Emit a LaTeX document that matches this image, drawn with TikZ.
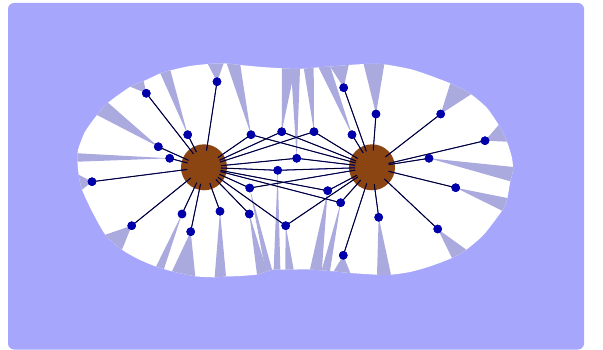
\documentclass[tikz,border=0pt]{standalone}
\usetikzlibrary{calc}
\definecolor{bgcol}{RGB}{166,166,252}
\definecolor{wedgecol}{RGB}{170,170,222}
\definecolor{dotcol}{RGB}{0,0,170}
\definecolor{hubcol}{RGB}{139,69,19}
\newcommand\wedgetri[3]{\fill[wedgecol] (#1) -- ($(#1)!1.8!(#2)$) -- ($(#1)!1.8!(#3)$) -- cycle;}
\newcommand\linkto[2]{%
  \draw[linkblue] (#1.center) -- ($(#2)!17pt!(#1)$);
  \draw[linkblack] (#1.center) -- ($(#2)!17pt!(#1)$);}
\begin{document}
\begin{tikzpicture}[x=1pt,y=-1pt,
  hub/.style={circle,fill=hubcol,minimum size=46pt,inner sep=0pt},
  dot/.style={circle,fill=dotcol,minimum size=8.6pt,inner sep=0pt},
  linkblue/.style={dotcol,line width=1pt},
  linkblack/.style={black,line width=0.6pt,shift={(0.35pt,0.35pt)}}]
\useasboundingbox (0,0) rectangle (603,350);
\fill[bgcol,rounded corners=6pt] (8,3) rectangle (584,349.5);
% white region
\fill[white] plot[smooth cycle,tension=0.4] coordinates {
(77.5,163) (78,150) (85,131.7) (97,115) (108,102.7) (130.3,86.7) (146,80) (160.3,73.3) (172,70) (190,66) (208,64) (224,63.3) (240,65) (262,67) (282,68.3) (297,69) (314,67.7) (331,66.5) (349,65) (365,64) (384,64.3) (413.7,70) (450.3,83.3) (471,94.3) (487,108) (498.7,125) (507,141.7) (512,158) (513,170) (510.3,181.3) (507,199.7) (502,210.7) (483.7,234.7) (466.3,249.7) (452,258) (430.3,266.3) (410,272) (391,274.7) (377,274.7) (350,273) (333.7,271.3) (310,269.5) (297,269.5) (285,269.7) (272,269.7) (257,274.5) (240,276) (226,276.5) (214.7,277.3) (195.3,276.3) (172,271.3) (155.3,266.3) (138,259) (122,249.7) (105.3,234.7) (92,211.3) (82,189.7) (78.7,174.7)};
\begin{scope}
\clip plot[smooth cycle,tension=0.4] coordinates {
(77.5,163) (78,150) (85,131.7) (97,115) (108,102.7) (130.3,86.7) (146,80) (160.3,73.3) (172,70) (190,66) (208,64) (224,63.3) (240,65) (262,67) (282,68.3) (297,69) (314,67.7) (331,66.5) (349,65) (365,64) (384,64.3) (413.7,70) (450.3,83.3) (471,94.3) (487,108) (498.7,125) (507,141.7) (512,158) (513,170) (510.3,181.3) (507,199.7) (502,210.7) (483.7,234.7) (466.3,249.7) (452,258) (430.3,266.3) (410,272) (391,274.7) (377,274.7) (350,273) (333.7,271.3) (310,269.5) (297,269.5) (285,269.7) (272,269.7) (257,274.5) (240,276) (226,276.5) (214.7,277.3) (195.3,276.3) (172,271.3) (155.3,266.3) (138,259) (122,249.7) (105.3,234.7) (92,211.3) (82,189.7) (78.7,174.7)};
\wedgetri{217,81.7}{208,64.3}{223.7,63.3}
\wedgetri{146.3,93.3}{130.3,86.7}{143.7,81}
\wedgetri{187.7,134.7}{160.3,73.3}{170.3,70}
\wedgetri{158.3,146.7}{97,115}{108,102.7}
\wedgetri{169.7,158.3}{78,153.3}{78,161.7}
\wedgetri{251,134.7}{227,64.3}{240.3,65}
\wedgetri{281.7,131.7}{282,68.3}{295,68.3}
\wedgetri{296.7,158.3}{291,69}{300,69}
\wedgetri{314,131.7}{303.7,67.7}{313.7,67.7}
\wedgetri{352,134.7}{318.7,67.7}{330.3,66.7}
\wedgetri{343.7,87.7}{330.3,66.7}{348.7,65}
\wedgetri{376,114}{363.7,64.3}{384.3,64.3}
\wedgetri{440.7,114}{450.3,83.3}{471,94.3}
\wedgetri{485,140.7}{498.7,125}{507,141.7}
\wedgetri{429,158.3}{510.5,166.7}{510.3,181.3}
\wedgetri{455.7,187.7}{507,198}{502,210.7}
\wedgetri{437.7,229}{452,258}{466.3,249.7}
\wedgetri{378.7,217.3}{377,274.7}{391,274.7}
\wedgetri{343.3,255.3}{333.7,271.3}{350.3,273}
\wedgetri{327.7,190.7}{310.3,268}{322,268}
\wedgetri{340.7,202.7}{322,269}{330.3,269}
\wedgetri{92,181.7}{78.7,174.7}{82,189.7}
\wedgetri{131.7,225.7}{105.3,234.7}{122,249.7}
\wedgetri{182,214}{155.3,268}{163.7,269.7}
\wedgetri{190.7,231.7}{172,271.3}{195.3,276.3}
\wedgetri{220,211.3}{214.7,276.3}{226,276.3}
\wedgetri{249.3,214}{257,274.7}{267,271.3}
\wedgetri{249.7,188}{265.3,269.7}{272,269.7}
\wedgetri{277.7,170.3}{273.7,268}{280.3,268}
\wedgetri{285.7,225.7}{285.3,269.7}{293.7,269.7}
\end{scope}
% hubs
\node[hub] (L) at (204,167.3) {};
\node[hub] (R) at (372,167.3) {};
% dots
\node[dot] (d1) at (146.3,93.3) {};
\node[dot] (d2) at (217,81.7) {};
\node[dot] (d3) at (187.7,134.7) {};
\node[dot] (d4) at (158.3,146.7) {};
\node[dot] (d5) at (169.7,158.3) {};
\node[dot] (d6) at (92,181.7) {};
\node[dot] (d7) at (131.7,225.7) {};
\node[dot] (d8) at (182,214) {};
\node[dot] (d9) at (190.7,231.7) {};
\node[dot] (d10) at (220,211.3) {};
\node[dot] (d11) at (249.3,214) {};
\node[dot] (m1) at (251,134.7) {};
\node[dot] (m2) at (281.7,131.7) {};
\node[dot] (m3) at (314,131.7) {};
\node[dot] (m4) at (296.7,158.3) {};
\node[dot] (m5) at (277.7,170.3) {};
\node[dot] (m6) at (249.7,188) {};
\node[dot] (m7) at (327.7,190.7) {};
\node[dot] (m8) at (340.7,202.7) {};
\node[dot] (m9) at (285.7,225.7) {};
\node[dot] (r1) at (343.7,87.7) {};
\node[dot] (r2) at (376,114) {};
\node[dot] (r3) at (352,134.7) {};
\node[dot] (r4) at (440.7,114) {};
\node[dot] (r5) at (485,140.7) {};
\node[dot] (r6) at (429,158.3) {};
\node[dot] (r7) at (455.7,187.7) {};
\node[dot] (r8) at (378.7,217.3) {};
\node[dot] (r9) at (437.7,229) {};
\node[dot] (r10) at (343.3,255.3) {};
% links
\foreach \d in {d1,d2,d3,d4,d5,d6,d7,d8,d9,d10,d11,m1,m2,m3,m4,m5,m6,m7,m8,m9}{\linkto{\d}{L}}
\foreach \d in {m1,m2,m3,m4,m5,m6,m7,m8,m9,r1,r2,r3,r4,r5,r6,r7,r8,r9,r10}{\linkto{\d}{R}}
% redraw dots on top
\foreach \d in {d1,d2,d3,d4,d5,d6,d7,d8,d9,d10,d11,m1,m2,m3,m4,m5,m6,m7,m8,m9,r1,r2,r3,r4,r5,r6,r7,r8,r9,r10}{\fill[dotcol] (\d) circle (4.3pt);}
\end{tikzpicture}
\end{document}
